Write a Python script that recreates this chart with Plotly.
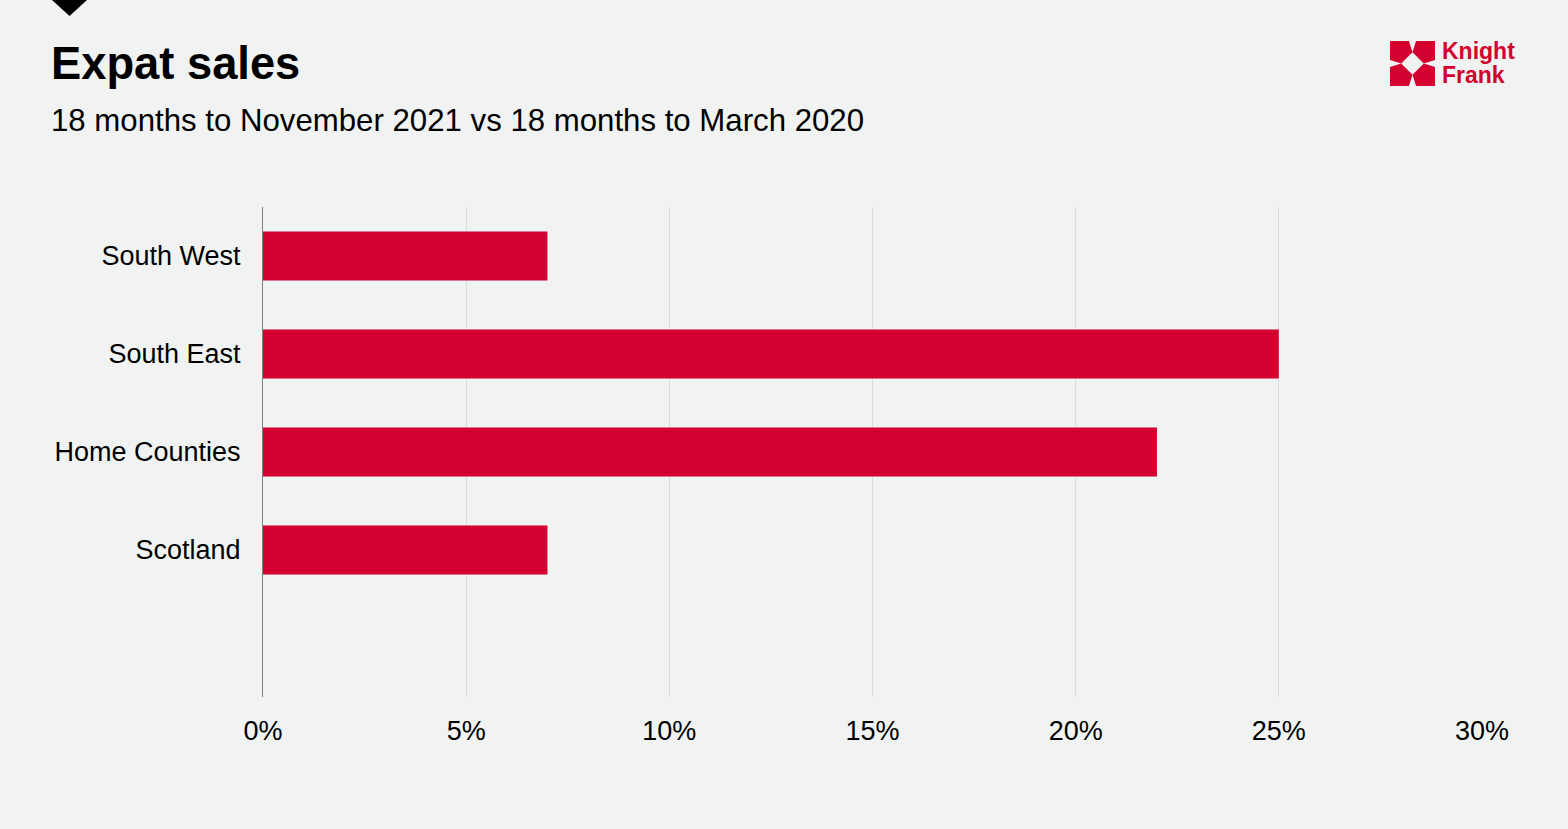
import plotly.graph_objects as go

categories = ["South West", "South East", "Home Counties", "Scotland"]
values = [7, 25, 22, 7]
tick_vals = [0, 5, 10, 15, 20, 25, 30]
tick_text = ["0%", "5%", "10%", "15%", "20%", "25%", "30%"]

W, H = 1568, 829
L, R, T, B = 263, 1482, 207, 697
BG = "#f0f3f2"
RED = "#d4002f"
FONT = "Liberation Sans, Arial, sans-serif"


def px(x):
    return (x - L) / (R - L)


def py(y):
    return (B - y) / (B - T)


fig = go.Figure()
fig.add_trace(go.Bar(
    x=values, y=categories, orientation="h",
    marker=dict(color=RED, line=dict(width=0)),
    width=0.5, hoverinfo="x+y",
))

shapes = []
# black triangle marker top-left
shapes.append(dict(
    type="path", xref="paper", yref="paper",
    path=f"M {px(52)},{py(0)} L {px(87)},{py(0)} L {px(69.5)},{py(16)} Z",
    fillcolor="#000000", line=dict(width=0),
))
# logo icon
x0, y0, s = 1390, 41, 45
pieces = [
    [(0, 0), (0.42, 0), (0.5, 0.25), (0.25, 0.5), (0, 0.42)],
    [(1, 0), (0.58, 0), (0.5, 0.25), (0.75, 0.5), (1, 0.42)],
    [(0, 1), (0.42, 1), (0.5, 0.75), (0.25, 0.5), (0, 0.58)],
    [(1, 1), (0.58, 1), (0.5, 0.75), (0.75, 0.5), (1, 0.58)],
]
for pc in pieces:
    pts = [(px(x0 + a * s), py(y0 + b * s)) for a, b in pc]
    path = "M " + " L ".join(f"{a},{b}" for a, b in pts) + " Z"
    shapes.append(dict(type="path", xref="paper", yref="paper", path=path,
                       fillcolor=RED, line=dict(width=0)))

annotations = [
    dict(text="<b>Expat sales</b>", x=px(49), y=py(63), xref="paper", yref="paper",
         xanchor="left", yanchor="middle", showarrow=False,
         font=dict(family=FONT, size=45.3, color="#000000")),
    dict(text="18 months to November 2021 vs 18 months to March 2020", x=px(49), y=py(121),
         xref="paper", yref="paper", xanchor="left", yanchor="middle", showarrow=False,
         font=dict(family=FONT, size=31.2, color="#000000")),
    dict(text="<b>Knight</b>", x=px(1440), y=py(51), xref="paper", yref="paper",
         xanchor="left", yanchor="middle", showarrow=False,
         font=dict(family=FONT, size=23, color=RED)),
    dict(text="<b>Frank</b>", x=px(1440), y=py(75), xref="paper", yref="paper",
         xanchor="left", yanchor="middle", showarrow=False,
         font=dict(family=FONT, size=23, color=RED)),
]

fig.update_layout(
    width=W, height=H,
    margin=dict(l=L, r=W - R, t=T, b=H - B, pad=0),
    paper_bgcolor=BG, plot_bgcolor=BG,
    showlegend=False,
    shapes=shapes,
    annotations=annotations,
    font=dict(family=FONT, size=27, color="#000000"),
    bargap=0.5,
)
fig.update_xaxes(
    range=[0, 30], tickvals=tick_vals, ticktext=tick_text,
    showgrid=True, gridcolor="#dadddc", gridwidth=1,
    zeroline=False, showline=False, ticks="", ticklabelstandoff=15,
    tickfont=dict(family=FONT, size=27, color="#000000"), fixedrange=True,
)
fig.update_yaxes(
    type="category", categoryorder="array", categoryarray=categories,
    range=[4.5, -0.5], showgrid=False, zeroline=False,
    showline=True, linecolor="#808080", linewidth=1,
    ticks="", ticklabelstandoff=16,
    tickfont=dict(family=FONT, size=27, color="#000000"), fixedrange=True,
)

fig.write_html(
    "out.html",
    config={"displayModeBar": False},
    post_script="document.body.style.margin='0';document.body.style.background='" + BG + "';",
)
